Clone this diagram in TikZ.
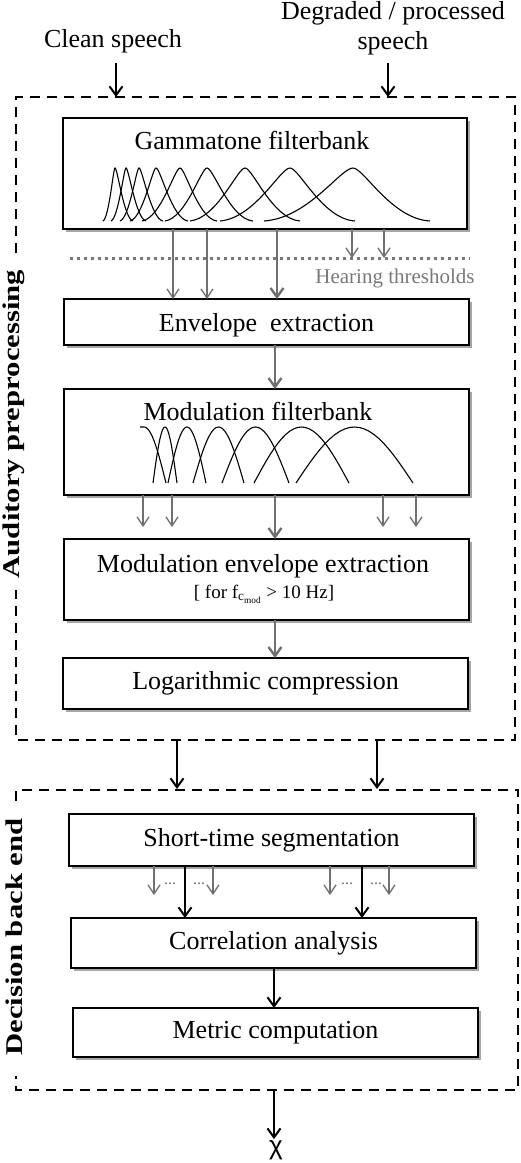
\documentclass[tikz,border=0pt]{standalone}
\usepackage{fontspec}
\setmainfont{Liberation Serif}
\newfontfamily\labfont{Liberation Serif}[FakeStretch=1.28]
\newfontfamily\chifont{Liberation Sans}
\usetikzlibrary{arrows.meta,shadows}
\definecolor{arrgray}{RGB}{112,112,112}
\definecolor{txtgray}{RGB}{120,120,120}
\tikzset{
  box/.style={draw=black, line width=1.4pt, fill=white, inner sep=0pt, outer sep=0pt,
    drop shadow={fill=black, opacity=0.35, shadow xshift=2.5pt, shadow yshift=-2.5pt},
    font=\fontsize{26}{30}\selectfont},
  txt/.style={inner sep=0pt, font=\fontsize{26}{30}\selectfont},
  dbox/.style={draw=black, line width=2pt, dash pattern=on 10pt off 7pt},
  blk/.style={draw=black, line width=2pt, -{Straight Barb[length=9pt,width=13pt]}},
  gthin/.style={draw=arrgray, line width=1.3pt, -{Straight Barb[length=9pt,width=12pt]}},
  gthick/.style={draw=arrgray, line width=2.4pt, -{Straight Barb[length=9pt,width=13pt]}},
  curve/.style={draw=black, line width=1.1pt},
  sidelab/.style={rotate=90, inner sep=0pt, font=\labfont\bfseries\fontsize{24}{28}\selectfont},
}
\begin{document}
\begin{tikzpicture}[x=1pt, y=-1pt]
\useasboundingbox (0,0) rectangle (520,1163);

% input texts
\node[txt, anchor=base] (clean) at (113,47) {Clean speech};
\node[txt, align=center, anchor=north] (degr) at (393,1.5) {Degraded / processed\\speech};
\coordinate (in1) at (116,63);
\coordinate (in2) at (388,63);
\coordinate (t1) at (116,97);
\coordinate (t2) at (388,97);

% dashed group boxes
\draw[dbox] (16,253) -- (16,97) -- (515,97) -- (515,740) -- (16,740) -- (16,590);
\draw[dbox] (16,801) -- (16,790) -- (518,790) -- (518,1090) -- (16,1090) -- (16,1076);
\node[sidelab] (lab1) at (14,424) {Auditory preprocessing};
\node[sidelab] (lab2) at (14,937) {Decision back end};

\draw[blk] (in1) -- (t1);
\draw[blk] (in2) -- (t2);

% boxes
\node[box, minimum width=404pt, minimum height=111pt] (gam) at (265,173.5) {};
\node[txt] (gamt) at (252,140) {Gammatone filterbank};
\node[box, minimum width=405pt, minimum height=46pt, text height=24pt, text depth=6pt] (env) at (266.5,322) {Envelope~ extraction};
\node[box, minimum width=405pt, minimum height=106pt] (mod) at (266.5,442) {};
\node[txt] (modt) at (258,411) {Modulation filterbank};
\node[box, minimum width=405pt, minimum height=81pt] (menv) at (266.5,579.5) {};
\node[txt] (menvt) at (263,566) {Modulation envelope extraction};
\node[inner sep=0pt, font=\fontsize{19}{22}\selectfont] (menvs) at (264,594)
  {[ for f\textsubscript{c\textsubscript{mod}} > 10 Hz]};
\node[box, minimum width=405pt, minimum height=51pt] (log) at (265.5,683.5) {Logarithmic compression};
\node[box, minimum width=405pt, minimum height=52pt] (seg) at (271.5,840) {Short-time segmentation};
\node[box, minimum width=405pt, minimum height=50pt] (corr) at (273.5,943) {Correlation analysis};
\node[box, minimum width=405pt, minimum height=49pt] (met) at (275.5,1032.5) {Metric computation};

% gammatone curves
\foreach \a/\p/\b in {103/115/133, 111/126/146, 120/139/163, 130/156/188, 142/180/217,
                      165/207/253, 190/245/300, 220/290/355, 264/353/430} {
  \draw[curve] (\a,221) .. controls ({\a+0.5*(\p-\a)},218) and ({\p-0.14*(\p-\a)},168)
     .. (\p,168) .. controls ({\p+0.14*(\b-\p)},168) and ({\b-0.5*(\b-\p)},219) .. (\b,221);
}

% modulation curves
\draw[curve] (140,427) -- (144,427) plot[domain=90:180, samples=20] ({144+22*((\x-90)/90)},{483-56*sin(\x)});
\foreach \a/\b in {153/177, 168/206, 193/244, 222/289, 254/349, 296/413} {
  \draw[curve] plot[domain=0:180, samples=25] ({\a+(\b-\a)*(\x/180)},{483-56*sin(\x)});
}

% hearing thresholds
\coordinate (th1) at (70,258);
\coordinate (th2) at (470,258);
\draw[draw=txtgray, line width=3pt, dash pattern=on 3pt off 4pt] (th1) -- (th2);
\node[inner sep=0pt, text=txtgray, font=\fontsize{21}{24}\selectfont] (hear) at (395,278) {Hearing thresholds};

% gammatone outputs
\coordinate (g1) at ([xshift=-92pt]gam.south);
\coordinate (g2) at ([xshift=-58pt]gam.south);
\coordinate (g3) at ([xshift=12pt]gam.south);
\coordinate (g4) at ([xshift=87pt]gam.south);
\coordinate (g5) at ([xshift=119pt]gam.south);
\draw[gthin] (g1) -- (g1 |- env.north);
\draw[gthin] (g2) -- (g2 |- env.north);
\draw[gthick] (g3) -- (g3 |- env.north);
\draw[gthin] (g4) -- (g4 |- th1);
\draw[gthin] (g5) -- (g5 |- th1);

% envelope -> modulation
\coordinate (e1) at ([xshift=8.5pt]env.south);
\draw[gthick] (e1) -- (e1 |- mod.north);

% modulation outputs
\coordinate (m1) at ([xshift=-123.5pt]mod.south);
\coordinate (m2) at ([xshift=-94.5pt]mod.south);
\coordinate (m3) at ([xshift=8.5pt]mod.south);
\coordinate (m4) at ([xshift=116.5pt]mod.south);
\coordinate (m5) at ([xshift=149.5pt]mod.south);
\draw[gthin] (m1) -- ++(0,32);
\draw[gthin] (m2) -- ++(0,32);
\draw[gthick] (m3) -- (m3 |- menv.north);
\draw[gthin] (m4) -- ++(0,32);
\draw[gthin] (m5) -- ++(0,32);

% modulation envelope -> log
\coordinate (me1) at ([xshift=8.5pt]menv.south);
\draw[gthick] (me1) -- (me1 |- log.north);

% between groups
\coordinate (b1a) at (177,740);
\coordinate (b1b) at (377,740);
\coordinate (b2a) at (177,789);
\coordinate (b2b) at (377,789);
\draw[blk] (b1a) -- (b2a);
\draw[blk] (b1b) -- (b2b);

% segmentation -> correlation
\coordinate (s1) at ([xshift=-86.5pt]seg.south);
\coordinate (s2) at ([xshift=90.5pt]seg.south);
\coordinate (sg1) at ([xshift=-117.5pt]seg.south);
\coordinate (sg2) at ([xshift=-58.5pt]seg.south);
\coordinate (sg3) at ([xshift=58.5pt]seg.south);
\coordinate (sg4) at ([xshift=117.5pt]seg.south);
\draw[blk] (s1) -- (s1 |- corr.north);
\draw[blk] (s2) -- (s2 |- corr.north);
\foreach \c in {sg1,sg2,sg3,sg4} { \draw[gthin] (\c) -- ++(0,29); }
\foreach \n/\xx in {d1/170, d2/199, d3/347, d4/376} {
  \node[inner sep=0pt, text=arrgray, font=\fontsize{16}{16}\selectfont, anchor=base] (\n) at (\xx,884) {...};
}

% correlation -> metric
\coordinate (c1) at ([xshift=0.5pt]corr.south);
\draw[blk] (c1) -- (c1 |- met.north);

% output
\coordinate (o1) at (274,1090);
\node[inner sep=1pt, font=\chifont\fontsize{26}{28}\selectfont] (chi) at (276,1150) {χ};
\draw[blk] (o1) -- (o1 |- chi.north);
\end{tikzpicture}
\end{document}
